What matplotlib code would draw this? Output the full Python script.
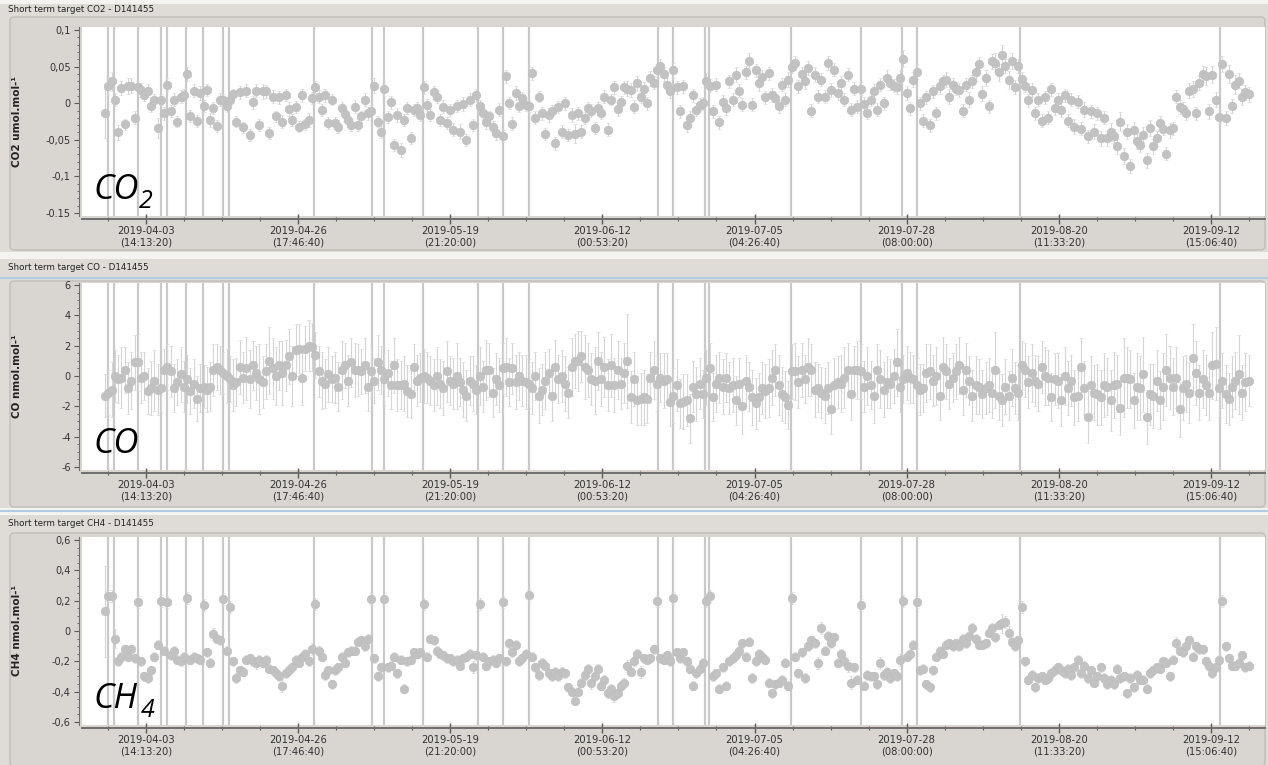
import numpy as np
import pandas as pd
import matplotlib
matplotlib.use("Agg")
import matplotlib.pyplot as plt
from matplotlib.patches import FancyBboxPatch, Rectangle
from matplotlib.ticker import AutoMinorLocator

# short term target, one injection every 12 h
times = pd.date_range("2019-03-28 08:30", periods=349, freq="12h")

co2 = [
    -0.014, 0.024, 0.030, 0.005, -0.040, 0.021, -0.029, 0.023, 0.024, -0.020,
    0.022, 0.018, 0.011, 0.017, -0.004, 0.004, -0.034, 0.005, -0.014, 0.025,
    -0.011, 0.005, -0.025, 0.009, 0.011, 0.040, -0.017, 0.017, -0.024, 0.014,
    -0.004, 0.018, -0.023, -0.007, -0.031, 0.005, 0.005, -0.004, 0.005, 0.012,
    -0.025, 0.015, -0.033, 0.017, -0.043, 0.001, 0.017, -0.030, 0.016, 0.016,
    -0.041, 0.009, -0.018, 0.008, -0.025, 0.011, -0.008, -0.023, -0.005, -0.032,
    0.011, -0.029, -0.023, 0.007, 0.022, 0.009, -0.009, 0.011, -0.027, 0.005,
    -0.027, -0.032, -0.007, -0.015, -0.023, -0.030, -0.005, -0.030, -0.018, 0.005,
    -0.014, -0.010, 0.024, -0.025, -0.039, 0.019, -0.019, 0.001, -0.057, -0.016,
    -0.064, -0.023, -0.007, -0.048, -0.009, -0.007, -0.016, 0.022, -0.002, -0.016,
    0.015, 0.008, -0.023, -0.005, -0.027, -0.009, -0.036, -0.004, -0.039, -0.001,
    -0.050, 0.005, -0.030, 0.011, -0.004, -0.014, -0.026, -0.018, -0.032, -0.041,
    -0.009, -0.045, 0.037, 0.000, -0.028, 0.014, -0.004, 0.007, -0.002, -0.004,
    0.041, -0.020, 0.009, -0.014, -0.042, -0.016, -0.010, -0.055, -0.005, -0.039,
    0.000, -0.043, -0.016, -0.042, -0.014, -0.039, -0.020, -0.007, -0.010, -0.034,
    -0.007, -0.014, 0.009, -0.036, 0.005, 0.022, -0.008, 0.002, 0.022, 0.020,
    0.018, -0.005, 0.027, 0.009, 0.020, 0.000, 0.034, 0.028, 0.045, 0.051,
    0.040, 0.025, 0.016, 0.045, 0.022, -0.011, 0.023, -0.030, -0.020, 0.011,
    -0.009, -0.002, 0.000, 0.031, 0.024, -0.011, 0.025, -0.026, 0.002, -0.007,
    0.030, 0.005, 0.039, 0.017, -0.002, 0.042, 0.058, -0.002, 0.045, 0.027,
    0.036, 0.008, 0.041, 0.011, 0.007, -0.004, 0.025, 0.005, 0.032, 0.050,
    0.055, 0.023, 0.040, 0.030, 0.048, -0.010, 0.039, 0.009, 0.032, 0.009,
    0.055, 0.018, 0.046, 0.014, 0.027, 0.005, 0.039, -0.009, 0.020, -0.005,
    0.020, -0.001, -0.013, 0.005, 0.016, -0.009, 0.025, 0.000, 0.035, 0.027,
    0.024, 0.022, 0.035, 0.061, 0.014, -0.007, 0.032, 0.043, 0.000, -0.024,
    0.008, -0.030, 0.016, -0.014, 0.023, 0.030, 0.032, 0.009, 0.025, 0.020,
    0.018, -0.010, 0.025, 0.005, 0.030, 0.043, 0.054, 0.013, 0.035, -0.004,
    0.057, 0.055, 0.042, 0.066, 0.051, 0.032, 0.058, 0.022, 0.051, 0.033,
    0.024, 0.004, 0.018, -0.014, 0.005, -0.024, 0.008, -0.020, 0.019, -0.007,
    0.005, -0.009, 0.011, -0.024, 0.005, -0.032, 0.002, -0.035, -0.009, -0.045,
    -0.011, -0.039, -0.014, -0.048, -0.020, -0.048, -0.039, -0.045, -0.059, -0.025,
    -0.072, -0.039, -0.086, -0.036, -0.052, -0.057, -0.043, -0.078, -0.034, -0.059,
    -0.048, -0.027, -0.035, -0.069, -0.037, -0.034, 0.009, -0.005, -0.008, -0.014,
    0.017, 0.019, -0.014, 0.028, 0.040, 0.037, -0.011, 0.039, 0.005, -0.019,
    0.054, -0.020, 0.040, -0.004, 0.025, 0.031, 0.009, 0.015, 0.012,
]
# uncertainty in 1e-3 umol/mol
co2_err_milli = [
    33, 12, 13, 9, 10, 10, 8, 11, 10, 9,
    9, 10, 8, 9, 8, 9, 14, 8, 9, 9,
    8, 9, 8, 9, 8, 10, 8, 9, 8, 9,
    8, 8, 9, 8, 8, 9, 8, 8, 9, 8,
    8, 9, 8, 9, 8, 9, 9, 8, 10, 9,
    8, 9, 8, 9, 9, 8, 9, 8, 8, 8,
    9, 8, 9, 8, 8, 9, 8, 9, 8, 8,
    8, 9, 8, 9, 8, 8, 9, 8, 8, 9,
    9, 8, 10, 8, 8, 9, 8, 9, 8, 9,
    9, 8, 8, 8, 8, 9, 8, 9, 8, 8,
    9, 8, 8, 9, 8, 8, 9, 8, 10, 9,
    8, 9, 8, 9, 8, 8, 9, 8, 8, 9,
    9, 8, 9, 8, 9, 9, 8, 8, 9, 8,
    9, 9, 8, 9, 8, 9, 8, 9, 8, 9,
    9, 8, 9, 13, 9, 9, 8, 9, 9, 8,
    9, 8, 9, 9, 8, 9, 9, 8, 9, 10,
    9, 9, 10, 9, 9, 9, 10, 9, 9, 9,
    10, 9, 9, 10, 9, 9, 9, 9, 9, 9,
    9, 9, 9, 10, 9, 9, 9, 9, 9, 9,
    9, 9, 10, 9, 9, 9, 10, 9, 9, 10,
    9, 9, 9, 10, 9, 9, 9, 9, 10, 9,
    10, 9, 9, 10, 9, 9, 10, 9, 9, 9,
    10, 9, 9, 9, 10, 9, 9, 9, 9, 9,
    9, 9, 9, 9, 10, 9, 9, 9, 10, 9,
    9, 9, 10, 11, 9, 9, 10, 10, 9, 9,
    9, 9, 9, 9, 10, 9, 10, 10, 9, 9,
    9, 9, 9, 10, 9, 12, 9, 10, 11, 9,
    10, 13, 11, 13, 10, 12, 11, 10, 10, 9,
    9, 9, 9, 9, 9, 9, 9, 9, 9, 9,
    9, 10, 9, 9, 9, 10, 9, 9, 10, 9,
    9, 10, 9, 10, 9, 10, 12, 10, 10, 13,
    11, 10, 10, 10, 11, 10, 10, 10, 11, 10,
    10, 10, 9, 9, 10, 9, 9, 10, 10, 9,
    10, 11, 9, 10, 11, 12, 10, 12, 10, 10,
    11, 10, 12, 10, 13, 10, 11, 10, 10,
]

co = [
    -1.3, -1.1, -0.9, 0.0, -0.2, -0.1, 0.4, -0.8, -0.3, 0.9,
    0.9, -0.1, 0.0, -1.0, -0.8, -0.3, -0.9, -0.8, 0.4, 0.6,
    0.3, -0.8, -0.4, 0.1, -0.7, -0.2, -1.0, -0.5, -1.5, -0.8,
    -0.7, -0.9, -0.7, 0.4, 0.6, 0.4, 0.2, 0.0, -0.2, -0.6,
    -0.4, 0.6, -0.1, 0.5, -0.2, 0.7, 0.2, -0.2, -0.4, 0.3,
    1.0, 0.5, 0.0, 0.7, 0.2, 0.7, 1.3, 0.0, 1.7, 1.8,
    -0.1, 1.8, 2.0, 1.9, 1.4, 0.3, -0.3, -0.5, 0.1, -0.2,
    -0.1, -0.7, 0.4, 0.7, -0.3, 0.9, 0.4, 0.4, 0.3, 0.7,
    -0.7, 0.3, -0.3, 0.9, 0.4, -0.2, 0.2, -0.6, 0.7, -0.6,
    -0.6, -0.5, -1.0, -1.2, 0.6, -0.3, -0.1, 0.0, -0.1, -0.3,
    -0.6, 0.0, -0.5, -0.8, 0.3, -0.3, -0.5, 0.0, -0.4, -0.9,
    -1.3, -0.3, -0.5, -0.9, 0.0, -0.7, 0.4, 0.4, -1.1, -0.2,
    -0.6, 0.5, 0.6, -0.4, 0.5, -0.4, 0.0, -0.3, -0.4, -0.5,
    -0.8, 0.0, -1.3, -0.9, -0.3, 0.2, -1.3, 0.6, -0.2, 0.0,
    -0.5, -1.1, 0.6, 1.0, 1.0, 1.3, 0.6, 0.4, -0.2, -0.3,
    1.0, -0.2, 0.6, -0.6, 0.7, -0.6, 0.4, -0.5, 0.2, 1.0,
    -1.4, -0.2, -1.6, -1.5, -1.4, -1.5, -0.1, 0.4, -0.5, -0.1,
    -0.3, -0.2, -1.7, -1.3, -0.6, -1.8, -1.7, -1.6, -2.8, -0.7,
    -1.2, -0.5, -1.2, -0.1, 0.5, -1.4, -0.5, -0.1, -0.7, -0.1,
    -0.8, -0.6, -1.6, -0.5, -2.0, -0.3, -0.7, -1.4, -1.8, -1.4,
    -0.8, -1.0, -0.8, -0.1, 0.4, -0.6, -1.2, -1.4, -1.9, 0.3,
    0.3, -0.4, 0.4, -0.2, 0.6, 0.4, -0.9, -0.8, -1.1, -1.3,
    -0.8, -2.2, -0.6, -0.4, -0.5, -0.1, 0.4, -1.2, 0.4, 0.4,
    0.3, -0.7, 0.0, -0.6, -1.3, 0.4, -0.2, -0.9, -0.4, -0.5,
    0.0, 0.9, -0.7, -0.2, 0.2, -0.1, -0.2, -0.6, -0.9, -0.8,
    0.2, 0.3, -0.3, 0.0, -1.3, 0.6, 0.3, -0.5, -0.1, 0.3,
    0.7, -0.9, 0.4, -0.3, -1.3, -0.6, -0.7, -1.2, -0.8, -0.6,
    -1.1, 0.4, -1.3, -1.6, -0.7, -1.3, -0.1, -0.8, -1.1, 0.7,
    0.4, -0.4, 0.2, -0.3, -0.5, 0.6, 0.0, -0.1, -1.4, -0.2,
    -0.3, -1.6, 0.0, -0.8, -0.3, -1.4, -1.3, 0.6, -0.8, -2.7,
    -0.6, -1.1, -1.2, -1.4, -0.6, -0.7, -1.6, -0.6, -0.5, -2.1,
    -0.1, -0.1, -0.2, -1.6, -0.7, -0.8, 0.1, -2.7, -1.2, -1.3,
    -0.3, -1.6, -0.7, 0.4, -0.1, -0.7, -0.1, -2.2, -0.8, -0.5,
    -1.1, 1.2, 0.2, -1.1, -0.2, -0.6, -1.1, 0.7, 0.8, -0.8,
    -0.3, -1.2, -1.5, -0.7, -0.3, 0.1, -1.1, -0.4, -0.3,
]
# uncertainty in 0.1 nmol/mol
co_err_tenths = [
    14, 15, 18, 17, 16, 20, 15, 17, 19, 18,
    19, 17, 16, 15, 18, 20, 17, 16, 14, 15,
    17, 16, 15, 18, 17, 16, 15, 16, 15, 16,
    14, 15, 16, 17, 15, 16, 14, 18, 15, 17,
    16, 18, 17, 21, 19, 16, 18, 23, 17, 18,
    22, 20, 19, 16, 21, 17, 18, 20, 17, 16,
    18, 15, 17, 16, 15, 17, 19, 16, 18, 15,
    17, 16, 19, 15, 17, 16, 18, 17, 15, 18,
    16, 17, 15, 18, 16, 17, 15, 16, 18, 17,
    16, 18, 17, 16, 15, 17, 16, 18, 17, 16,
    17, 19, 16, 18, 20, 16, 17, 22, 16, 18,
    17, 16, 18, 16, 19, 17, 20, 18, 16, 17,
    18, 17, 19, 16, 17, 18, 16, 17, 18, 16,
    17, 16, 18, 17, 19, 16, 17, 18, 16, 17,
    18, 17, 19, 18, 20, 17, 21, 18, 17, 22,
    19, 18, 20, 17, 21, 18, 19, 17, 20, 31,
    17, 18, 16, 17, 18, 16, 17, 19, 18, 16,
    18, 17, 16, 18, 17, 16, 18, 17, 16, 17,
    18, 17, 16, 18, 17, 16, 19, 17, 18, 16,
    17, 18, 16, 17, 18, 17, 16, 18, 17, 16,
    17, 18, 19, 18, 17, 20, 18, 17, 16, 18,
    19, 17, 18, 16, 19, 17, 18, 16, 17, 18,
    17, 16, 18, 17, 19, 20, 18, 17, 16, 19,
    18, 17, 19, 16, 18, 17, 19, 18, 17, 16,
    18, 22, 17, 16, 18, 17, 16, 18, 17, 16,
    19, 18, 17, 19, 16, 20, 18, 17, 16, 18,
    19, 17, 18, 16, 17, 19, 18, 16, 17, 18,
    17, 25, 16, 17, 18, 16, 19, 17, 18, 16,
    18, 17, 19, 17, 18, 17, 19, 18, 16, 17,
    18, 17, 19, 18, 17, 18, 17, 19, 18, 17,
    19, 18, 20, 18, 21, 19, 20, 22, 19, 18,
    26, 20, 19, 18, 22, 21, 25, 18, 20, 21,
    20, 19, 22, 24, 21, 19, 20, 18, 21, 19,
    20, 22, 21, 18, 19, 20, 18, 22, 24, 19,
    18, 19, 17, 20, 19, 26, 18, 19, 17,
]

ch4 = [
    0.13, 0.23, 0.23, -0.05, -0.20, -0.17, -0.12, -0.17, -0.12, -0.18,
    0.19, -0.20, -0.30, -0.31, -0.26, -0.17, -0.09, 0.20, -0.13, 0.19,
    -0.16, -0.13, -0.19, -0.20, -0.17, 0.22, -0.19, -0.17, -0.18, -0.19,
    0.17, -0.14, -0.21, -0.02, -0.05, -0.06, 0.21, -0.13, 0.16, -0.20,
    -0.31, -0.26, -0.27, -0.19, -0.18, -0.20, -0.21, -0.19, -0.21, -0.19,
    -0.25, -0.26, -0.28, -0.30, -0.36, -0.28, -0.26, -0.24, -0.19, -0.21,
    -0.17, -0.15, -0.20, -0.12, 0.18, -0.13, -0.17, -0.29, -0.26, -0.35,
    -0.26, -0.24, -0.17, -0.21, -0.14, -0.13, -0.13, -0.07, -0.06, -0.10,
    -0.05, 0.21, -0.18, -0.30, -0.24, 0.21, -0.24, -0.23, -0.17, -0.28,
    -0.19, -0.38, -0.20, -0.19, -0.14, -0.15, -0.14, 0.18, -0.17, -0.05,
    -0.06, -0.13, -0.15, -0.16, -0.18, -0.18, -0.20, -0.19, -0.23, -0.18,
    -0.17, -0.15, -0.24, -0.16, 0.18, -0.17, -0.23, -0.20, -0.19, -0.21,
    -0.18, 0.19, -0.20, -0.08, -0.14, -0.09, -0.20, -0.18, -0.15, 0.24,
    -0.17, -0.24, -0.29, -0.21, -0.23, -0.28, -0.30, -0.27, -0.30, -0.27,
    -0.28, -0.37, -0.40, -0.46, -0.40, -0.34, -0.29, -0.25, -0.34, -0.30,
    -0.25, -0.36, -0.32, -0.41, -0.38, -0.43, -0.41, -0.36, -0.34, -0.23,
    -0.27, -0.20, -0.15, -0.27, -0.18, -0.19, -0.18, -0.12, 0.20, -0.18,
    -0.19, -0.16, -0.20, 0.22, -0.14, -0.18, -0.14, -0.20, -0.25, -0.36,
    -0.28, -0.25, -0.21, 0.20, 0.23, -0.30, -0.28, -0.38, -0.24, -0.36,
    -0.20, -0.18, -0.16, -0.13, -0.08, -0.17, -0.07, -0.31, -0.20, -0.15,
    -0.17, -0.19, -0.34, -0.41, -0.35, -0.34, -0.32, -0.21, -0.36, 0.22,
    -0.17, -0.28, -0.14, -0.31, -0.10, -0.06, -0.08, -0.21, 0.02, -0.13,
    -0.03, -0.08, -0.04, -0.21, -0.15, -0.20, -0.23, -0.34, -0.24, -0.32,
    0.17, -0.36, -0.29, -0.30, -0.30, -0.35, -0.21, -0.29, -0.27, -0.31,
    -0.28, -0.30, -0.19, 0.20, -0.17, -0.15, -0.09, 0.19, -0.26, -0.25,
    -0.35, -0.37, -0.26, -0.17, -0.13, -0.15, -0.09, -0.08, -0.10, -0.08,
    -0.10, -0.05, -0.08, -0.03, 0.02, -0.05, -0.09, -0.09, -0.08, -0.01,
    0.02, -0.04, 0.04, 0.05, 0.06, -0.01, -0.07, -0.10, -0.06, 0.16,
    -0.20, -0.32, -0.29, -0.37, -0.31, -0.30, -0.32, -0.31, -0.28, -0.26,
    -0.24, -0.26, -0.28, -0.25, -0.29, -0.24, -0.19, -0.28, -0.23, -0.31,
    -0.26, -0.34, -0.30, -0.24, -0.31, -0.35, -0.32, -0.35, -0.25, -0.31,
    -0.30, -0.41, -0.31, -0.37, -0.29, -0.32, -0.32, -0.38, -0.28, -0.26,
    -0.24, -0.25, -0.20, -0.21, -0.30, -0.19, -0.08, -0.13, -0.14, -0.10,
    -0.06, -0.17, -0.10, -0.12, -0.12, -0.20, -0.23, -0.28, -0.24, -0.19,
    0.20, -0.10, -0.18, -0.23, -0.23, -0.21, -0.16, -0.24, -0.23,
]
# uncertainty in 0.01 nmol/mol
ch4_err_hundredths = [
    30, 4, 4, 6, 3, 3, 3, 3, 3, 3,
    4, 3, 3, 3, 3, 3, 3, 4, 3, 4,
    3, 3, 3, 3, 3, 4, 3, 3, 3, 3,
    4, 3, 3, 4, 3, 3, 4, 3, 4, 3,
    3, 3, 3, 3, 3, 3, 4, 3, 3, 3,
    3, 3, 3, 3, 4, 3, 3, 3, 3, 3,
    3, 3, 3, 4, 4, 3, 3, 3, 3, 3,
    3, 3, 3, 3, 3, 3, 3, 3, 3, 3,
    3, 4, 3, 3, 3, 4, 3, 3, 3, 3,
    3, 3, 3, 3, 3, 3, 3, 4, 3, 3,
    3, 3, 3, 3, 3, 3, 3, 3, 3, 3,
    3, 3, 4, 3, 4, 3, 3, 3, 3, 3,
    3, 4, 3, 3, 3, 3, 3, 3, 3, 4,
    3, 3, 3, 3, 3, 3, 3, 3, 3, 3,
    3, 3, 3, 3, 3, 3, 3, 3, 4, 3,
    3, 3, 3, 3, 3, 4, 3, 3, 3, 4,
    3, 3, 3, 4, 3, 3, 3, 3, 4, 3,
    3, 3, 3, 4, 3, 3, 3, 3, 3, 3,
    3, 3, 3, 4, 4, 3, 3, 3, 3, 3,
    3, 3, 3, 3, 3, 3, 3, 3, 3, 3,
    3, 3, 3, 3, 3, 3, 3, 3, 3, 4,
    3, 3, 3, 3, 3, 3, 3, 4, 4, 3,
    3, 3, 3, 3, 3, 3, 4, 4, 3, 3,
    4, 3, 3, 3, 3, 3, 4, 3, 3, 3,
    3, 3, 4, 4, 3, 3, 3, 4, 3, 3,
    3, 3, 3, 3, 3, 3, 3, 3, 3, 3,
    3, 3, 3, 3, 3, 3, 3, 3, 3, 3,
    3, 3, 3, 6, 4, 4, 3, 3, 3, 4,
    3, 3, 3, 3, 3, 3, 3, 3, 3, 3,
    3, 3, 3, 3, 3, 3, 3, 3, 3, 3,
    3, 3, 3, 3, 3, 3, 3, 3, 3, 3,
    3, 3, 3, 3, 3, 3, 3, 3, 3, 3,
    3, 3, 3, 3, 3, 3, 4, 3, 3, 3,
    3, 3, 3, 3, 3, 3, 3, 3, 3, 3,
    4, 3, 3, 3, 3, 3, 3, 3, 3,
]

# calibration / maintenance events, shown as vertical lines on every gas
events = pd.to_datetime([
    "2019-03-28 19:27", "2019-03-29 17:22", "2019-04-02 09:00", "2019-04-05 21:00",
    "2019-04-06 18:55", "2019-04-09 16:17", "2019-04-12 06:22", "2019-04-15 07:24",
    "2019-04-16 05:19", "2019-04-29 03:44", "2019-05-07 23:32", "2019-05-09 19:21",
    "2019-05-15 17:48", "2019-05-24 02:38", "2019-05-27 21:55", "2019-05-31 20:53",
    "2019-06-20 11:58", "2019-06-22 18:44", "2019-06-27 15:37", "2019-06-28 06:12",
    "2019-07-10 17:39", "2019-07-21 09:18", "2019-07-27 15:01", "2019-07-29 21:48",
    "2019-08-14 13:56", "2019-09-14 00:18",
])

# axis runs in steps of 2e6 s, minor ticks every 5e5 s
first_major = pd.Timestamp("2019-04-03 14:13:20")
major_ticks = pd.date_range(first_major, periods=8, freq=pd.Timedelta(seconds=2_000_000))
minor_ticks = pd.date_range(first_major - pd.Timedelta(seconds=500_000), periods=31,
                            freq=pd.Timedelta(seconds=500_000))
x_start = pd.Timestamp("2019-03-24 20:30")
x_end = pd.Timestamp("2019-09-20 20:42")

panels = [
    dict(title="Short term target CO2 - D141455", ylabel="CO2 umol.mol-¹",
         y=co2, err=np.array(co2_err_milli) / 1000.0,
         ylim=(-0.1541, 0.1041), minor=5,
         yticks=[-0.15, -0.1, -0.05, 0, 0.05, 0.1],
         yticklabels=["-0.15", "-0,1", "-0,05", "0", "0,05", "0,1"],
         title_y=10, frame=(17, 250), plot=(27, 216), gas=("CO", "2", 139)),
    dict(title="Short term target CO - D141455", ylabel="CO nmol.mol-¹",
         y=co, err=np.array(co_err_tenths) / 10.0,
         ylim=(-6.198, 6.132), minor=4,
         yticks=[-6, -4, -2, 0, 2, 4, 6],
         yticklabels=["-6", "-4", "-2", "0", "2", "4", "6"],
         title_y=268, frame=(281, 507), plot=(283, 470), gas=("CO", "", 0)),
    dict(title="Short term target CH4 - D141455", ylabel="CH4 nmol.mol-¹",
         y=ch4, err=np.array(ch4_err_hundredths) / 100.0,
         ylim=(-0.6198, 0.6198), minor=4,
         yticks=[-0.6, -0.4, -0.2, 0, 0.2, 0.4, 0.6],
         yticklabels=["-0,6", "-0,4", "-0,2", "0", "0,2", "0,4", "0,6"],
         title_y=523, frame=(533, 766), plot=(537, 725), gas=("CH", "4", 141)),
]

W, H = 1268, 765
fig = plt.figure(figsize=(W / 100, H / 100), dpi=100, facecolor="#dfdcd8")

# window chrome drawn in pixel units
bg = fig.add_axes([0, 0, 1, 1])
bg.set_xlim(0, W)
bg.set_ylim(H, 0)
bg.axis("off")
bg.add_patch(Rectangle((0, 0), W, 4, color="#f4f3f1", lw=0))
bg.add_patch(Rectangle((0, 252), W, 7, color="#f4f3f1", lw=0))
bg.add_patch(Rectangle((0, 508), W, 7, color="#f4f3f1", lw=0))
bg.plot([0, W], [278, 278], color="#b3cbe0", lw=1.5)
bg.plot([0, W], [511, 511], color="#b3cbe0", lw=1.5)

for p in panels:
    top, bottom = p["frame"]
    bg.add_patch(FancyBboxPatch((10, top), 1255, bottom - top,
                                boxstyle="round,pad=0,rounding_size=4",
                                fc="#d9d5d1", ec="#c0bcb8", lw=1))
    fig.text(8 / W, 1 - p["title_y"] / H, p["title"], fontsize=6.3, color="#222222",
             va="center", ha="left")

    ptop, pbot = p["plot"]
    ax = fig.add_axes([82 / W, 1 - pbot / H, (1265 - 82) / W, (pbot - ptop) / H])
    ax.set_facecolor("white")

    for t in events:
        ax.axvline(t, color="#c9c9c9", lw=1.6, zorder=2)

    ax.errorbar(times, p["y"], yerr=p["err"], fmt="o", ms=6.2, color="#c2c2c2",
                mec="#bdbdbd", mew=0.4, ecolor="#d5d5d5", elinewidth=0.8,
                capsize=1.6, capthick=0.8, zorder=3)

    ax.set_xlim(x_start, x_end)
    ax.set_ylim(*p["ylim"])
    ax.set_xticks(major_ticks, labels=[f"{d:%Y-%m-%d}\n({d:%H:%M:%S})" for d in major_ticks])
    ax.set_xticks(minor_ticks, minor=True)
    ax.set_yticks(p["yticks"], labels=p["yticklabels"])
    ax.yaxis.set_minor_locator(AutoMinorLocator(p["minor"]))

    for side in ("top", "right"):
        ax.spines[side].set_visible(False)
    ax.spines["bottom"].set_position(("outward", 2.5))
    ax.spines["bottom"].set_color("#6e6e6e")
    ax.spines["bottom"].set_linewidth(1.4)
    ax.spines["left"].set_position(("outward", 2.5))
    ax.spines["left"].set_color("#6e6e6e")

    ax.tick_params(axis="x", which="major", direction="inout", length=7, width=1,
                   color="#5a5a5a", labelsize=7.2, labelcolor="#333333", pad=1.2)
    ax.tick_params(axis="x", which="minor", direction="inout", length=3.5, width=0.8,
                   color="#5a5a5a")
    ax.tick_params(axis="y", which="major", direction="out", length=3.5, width=0.8,
                   color="#5a5a5a", labelsize=7, labelcolor="#333333", pad=2)
    ax.tick_params(axis="y", which="minor", direction="out", length=1.8, width=0.6,
                   color="#5a5a5a")

    fig.text(17 / W, 1 - (ptop + pbot) / 2 / H, p["ylabel"], rotation=90,
             fontsize=7.5, fontweight="bold", color="#222222", ha="center", va="center")

    # large gas name in the lower left corner of each plot
    base = pbot - 17
    name, sub, sub_x = p["gas"]
    fig.text(93 / W, 1 - base / H, name, fontsize=25, style="italic",
             family="Open Sans", color="black", ha="left", va="baseline", zorder=5)
    if sub:
        fig.text(sub_x / W, 1 - (base + 9) / H, sub, fontsize=18, style="italic",
                 family="Open Sans", color="black", ha="left", va="baseline", zorder=5)

fig.savefig("out.png", dpi=100, facecolor=fig.get_facecolor())
